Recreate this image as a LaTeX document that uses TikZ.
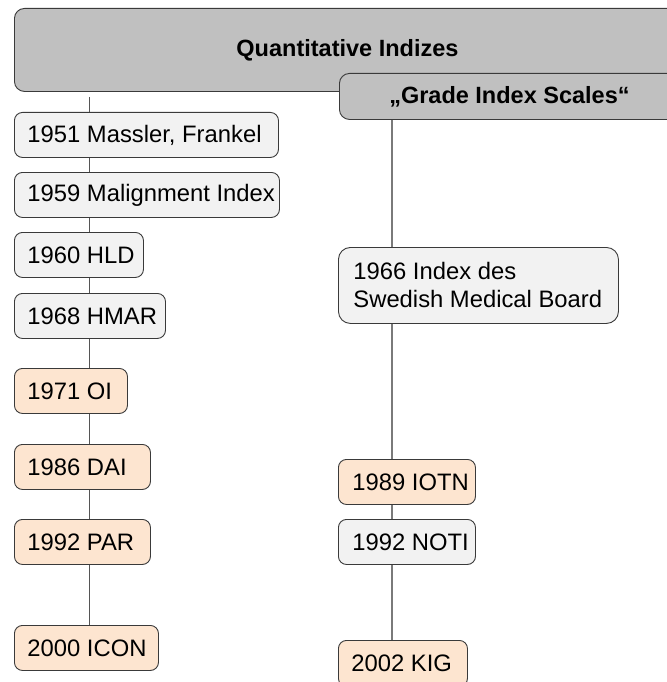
\documentclass[tikz,border=0pt]{standalone}
\usepackage{fontspec}
\setmainfont{Liberation Sans}
\definecolor{hdrgray}{HTML}{C0C0C0}
\definecolor{lightbox}{HTML}{F2F2F2}
\definecolor{peach}{HTML}{FDE5D0}
\definecolor{bordercol}{HTML}{3A3A3A}
\definecolor{lineleft}{HTML}{555555}
\definecolor{lineright}{HTML}{7A7A7A}
\newcommand{\bxtext}[2]{\makebox[#1][l]{#2}}
\tikzset{
  basebox/.style={draw=bordercol, line width=0.9bp, rounded corners=8bp, anchor=north west,
    inner ysep=0pt, minimum height=45bp, font=\fontsize{23.8bp}{28bp}\selectfont},
  greybox/.style={basebox, fill=lightbox},
  peachbox/.style={basebox, fill=peach},
  hdrbox/.style={draw=bordercol, line width=0.9bp, rounded corners=10bp, fill=hdrgray, anchor=north west,
    inner sep=0pt, font=\fontsize{23.5bp}{28bp}\selectfont\bfseries},
  connL/.style={draw=lineleft, line width=1bp},
  connR/.style={draw=lineright, line width=1.2bp}
}
\begin{document}
\begin{tikzpicture}[x=1bp,y=-1bp]
\useasboundingbox (0,0) rectangle (667,682);
\clip (0,0) rectangle (667,682);
% header boxes
\node[hdrbox, minimum width=666bp, minimum height=83bp] (top) at (14,8) {Quantitative Indizes};
\node[hdrbox, minimum width=340bp, minimum height=46bp] (grade) at (339,73) {„Grade Index Scales“};
% left column
\node[greybox, inner xsep=13bp] (n1951) at (14,112) {\bxtext{238bp}{1951 Massler, Frankel}};
\node[greybox, inner xsep=13bp] (n1959) at (14,172) {\bxtext{239bp}{1959 Malignment Index}};
\node[greybox, inner xsep=13bp] (n1960) at (14,232) {\bxtext{103bp}{1960 HLD}};
\node[greybox, inner xsep=13bp] (n1968) at (14,293) {\bxtext{125bp}{1968 HMAR}};
\node[peachbox, inner xsep=13bp] (n1971) at (14,368) {\bxtext{87bp}{1971 OI}};
\node[peachbox, inner xsep=13bp] (n1986) at (14,444) {\bxtext{110bp}{1986 DAI}};
\node[peachbox, inner xsep=13bp] (n1992) at (14,519) {\bxtext{110bp}{1992 PAR}};
\node[peachbox, inner xsep=13bp] (n2000) at (14,625) {\bxtext{118bp}{2000 ICON}};
% right column
\node[greybox, inner xsep=15bp, minimum height=76bp, align=left, rounded corners=12bp] (n1966) at (338,247)
  {\bxtext{250bp}{1966 Index des}\\\bxtext{250bp}{Swedish Medical Board}};
\node[peachbox, inner xsep=14bp] (n1989) at (338,459) {\bxtext{109bp}{1989 IOTN}};
\node[greybox, inner xsep=14bp] (n1992b) at (338,519) {\bxtext{109bp}{1992 NOTI}};
\node[peachbox, inner xsep=13bp, minimum height=46bp] (n2002) at (338,640) {\bxtext{103bp}{2002 KIG}};
% connector columns
\coordinate (L) at (89,0);
\coordinate (R) at (392,0);
\draw[connL] ([yshift=-5bp]top.south -| L) -- (n1951.north -| L);
\draw[connL] (n1951.south -| L) -- (n1959.north -| L);
\draw[connL] (n1959.south -| L) -- (n1960.north -| L);
\draw[connL] (n1960.south -| L) -- (n1968.north -| L);
\draw[connL] (n1968.south -| L) -- (n1971.north -| L);
\draw[connL] (n1971.south -| L) -- (n1986.north -| L);
\draw[connL] (n1986.south -| L) -- (n1992.north -| L);
\draw[connL] (n1992.south -| L) -- (n2000.north -| L);
\draw[connR] (grade.south -| R) -- (n1966.north -| R);
\draw[connR] (n1966.south -| R) -- (n1989.north -| R);
\draw[connR] (n1989.south -| R) -- (n1992b.north -| R);
\draw[connR] (n1992b.south -| R) -- (n2002.north -| R);
\end{tikzpicture}
\end{document}
